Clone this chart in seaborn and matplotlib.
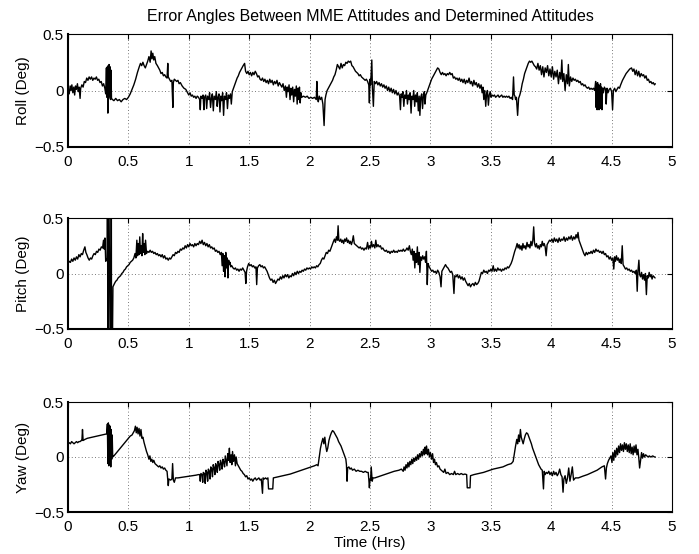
import matplotlib
matplotlib.use("Agg")
import matplotlib.pyplot as plt
import seaborn as sns
import pandas as pd
from matplotlib.ticker import FuncFormatter

# ---------------- data ----------------
title = "Error Angles Between MME Attitudes and Determined Attitudes"
panel_labels = ["Roll (Deg)", "Pitch (Deg)", "Yaw (Deg)"]
x_label = "Time (Hrs)"
x_ticks = [0, 0.5, 1, 1.5, 2, 2.5, 3, 3.5, 4, 4.5, 5]
y_ticks = [-0.5, 0, 0.5]

roll_points = [
(0.000,0.02),(0.010,-0.03),(0.018,0.04),(0.025,0.00),(0.032,0.05),(0.040,-0.02),(0.048,0.03),(0.055,-0.04),
(0.062,0.04),(0.070,0.01),(0.078,0.06),(0.085,-0.01),(0.092,0.03),(0.100,-0.07),(0.105,0.02),(0.115,0.05),
(0.125,0.03),(0.135,0.08),(0.145,0.07),(0.155,0.11),(0.165,0.09),(0.175,0.12),(0.185,0.10),(0.195,0.12),
(0.205,0.09),(0.215,0.11),(0.225,0.10),(0.235,0.12),(0.245,0.09),(0.255,0.10),(0.265,0.07),(0.275,0.08),
(0.285,0.04),(0.295,0.06),(0.305,0.02),(0.312,-0.03),(0.318,0.20),(0.322,-0.06),(0.326,0.21),(0.330,-0.20),
(0.333,0.22),(0.336,-0.07),(0.340,0.23),(0.344,-0.05),(0.348,0.21),(0.352,-0.08),(0.356,0.18),(0.360,-0.07),
(0.368,-0.08),(0.380,-0.09),(0.395,-0.07),(0.410,-0.09),(0.425,-0.08),(0.440,-0.10),(0.455,-0.08),(0.470,-0.07),
(0.485,-0.08),(0.500,-0.06),(0.515,-0.03),(0.530,0.01),(0.545,0.05),(0.560,0.10),(0.575,0.16),(0.590,0.21),
(0.600,0.24),(0.610,0.22),(0.620,0.25),(0.630,0.22),(0.640,0.20),(0.650,0.23),(0.660,0.26),(0.670,0.30),
(0.680,0.25),(0.688,0.35),(0.695,0.28),(0.702,0.33),(0.710,0.27),(0.718,0.30),(0.728,0.24),(0.740,0.22),
(0.750,0.20),(0.760,0.18),(0.770,0.15),(0.780,0.16),(0.790,0.13),(0.800,0.14),(0.810,0.12),(0.820,0.11),
(0.826,0.24),(0.830,0.12),(0.840,0.10),(0.850,0.08),(0.860,0.09),(0.868,-0.15),(0.872,0.07),(0.880,0.10),
(0.890,0.09),(0.900,0.08),(0.910,0.09),(0.920,0.06),(0.930,0.07),(0.945,0.04),(0.960,0.02),(0.975,0.01),
(0.990,-0.02),(1.000,-0.04),(1.010,-0.02),(1.020,-0.05),(1.030,-0.04),(1.040,-0.06),(1.050,-0.05),(1.060,-0.07),
(1.070,-0.05),(1.080,-0.06),(1.090,-0.08),(1.095,-0.17),(1.100,-0.05),(1.110,-0.07),(1.118,-0.04),(1.125,-0.17),
(1.130,-0.06),(1.140,-0.04),(1.148,-0.16),(1.155,-0.05),(1.165,-0.08),(1.172,-0.02),(1.180,-0.15),(1.188,-0.06),
(1.195,-0.03),(1.203,-0.18),(1.210,-0.05),(1.220,-0.08),(1.228,-0.01),(1.235,-0.14),(1.242,-0.06),(1.250,-0.03),
(1.258,-0.19),(1.265,-0.05),(1.272,-0.09),(1.280,-0.02),(1.288,-0.22),(1.295,-0.05),(1.305,-0.08),(1.312,-0.02),
(1.320,-0.16),(1.328,-0.04),(1.336,-0.07),(1.345,-0.03),(1.352,-0.12),(1.360,-0.01),(1.370,0.02),(1.380,0.05),
(1.390,0.08),(1.400,0.11),(1.410,0.13),(1.420,0.16),(1.430,0.18),(1.440,0.20),(1.450,0.22),(1.462,0.24),
(1.470,0.17),(1.480,0.15),(1.490,0.17),(1.500,0.14),(1.510,0.16),(1.520,0.13),(1.530,0.16),(1.540,0.14),
(1.550,0.17),(1.560,0.15),(1.570,0.12),(1.580,0.13),(1.590,0.10),(1.600,0.09),(1.610,0.11),(1.620,0.08),
(1.630,0.10),(1.640,0.07),(1.650,0.09),(1.660,0.06),(1.670,0.10),(1.680,0.07),(1.690,0.09),(1.700,0.05),
(1.710,0.08),(1.720,0.06),(1.730,0.09),(1.740,0.04),(1.750,0.07),(1.760,0.05),(1.770,0.03),(1.780,0.06),
(1.790,0.00),(1.800,0.04),(1.808,-0.06),(1.815,0.03),(1.822,-0.01),(1.830,0.05),(1.838,-0.08),(1.845,0.02),
(1.852,-0.04),(1.860,0.03),(1.868,-0.10),(1.875,0.01),(1.882,-0.05),(1.890,0.04),(1.897,-0.12),(1.903,0.02),
(1.910,-0.08),(1.916,0.03),(1.922,-0.11),(1.928,-0.02),(1.935,-0.06),(1.950,-0.05),(1.965,-0.06),(1.980,-0.05),
(1.995,-0.07),(2.010,-0.06),(2.025,-0.07),(2.040,-0.06),(2.055,-0.08),(2.060,0.08),(2.066,-0.07),(2.072,-0.10),
(2.080,-0.05),(2.090,-0.08),(2.100,-0.06),(2.110,-0.12),(2.120,-0.31),(2.128,-0.08),(2.135,-0.04),(2.145,0.00),
(2.160,0.03),(2.175,0.06),(2.190,0.09),(2.200,0.12),(2.210,0.14),(2.220,0.18),(2.230,0.23),(2.240,0.21),
(2.250,0.19),(2.260,0.24),(2.270,0.20),(2.280,0.23),(2.290,0.22),(2.300,0.25),(2.310,0.24),(2.320,0.26),
(2.330,0.25),(2.340,0.26),(2.350,0.22),(2.360,0.21),(2.370,0.19),(2.380,0.17),(2.390,0.16),(2.400,0.15),
(2.410,0.13),(2.420,0.14),(2.430,0.12),(2.440,0.11),(2.450,0.10),(2.460,0.09),(2.470,0.10),(2.480,0.08),
(2.490,0.05),(2.495,-0.11),(2.500,0.10),(2.505,0.05),(2.515,0.27),(2.520,0.02),(2.528,-0.14),(2.535,0.08),
(2.545,0.06),(2.555,0.08),(2.565,0.05),(2.575,0.07),(2.585,0.04),(2.595,0.06),(2.605,0.03),(2.615,0.05),
(2.625,0.02),(2.635,0.04),(2.645,0.00),(2.655,0.03),(2.665,-0.01),(2.675,0.02),(2.685,-0.02),(2.695,0.01),
(2.705,-0.03),(2.715,0.00),(2.725,-0.04),(2.735,-0.02),(2.745,-0.05),(2.752,-0.17),(2.758,-0.03),(2.765,-0.06),
(2.772,-0.01),(2.780,-0.14),(2.787,-0.04),(2.795,-0.07),(2.802,0.00),(2.810,-0.12),(2.818,-0.04),(2.825,-0.08),
(2.832,-0.02),(2.840,-0.20),(2.847,-0.05),(2.855,-0.08),(2.862,0.00),(2.870,-0.14),(2.877,-0.04),(2.885,-0.10),
(2.892,-0.02),(2.900,-0.18),(2.907,-0.05),(2.913,-0.22),(2.920,-0.06),(2.928,-0.03),(2.935,-0.16),(2.942,-0.05),
(2.950,-0.01),(2.955,-0.12),(2.962,-0.04),(2.970,-0.02),(2.980,0.01),(2.990,0.04),(3.000,0.07),(3.010,0.10),
(3.020,0.12),(3.030,0.14),(3.040,0.16),(3.050,0.18),(3.060,0.20),(3.070,0.19),(3.080,0.16),(3.090,0.14),
(3.100,0.16),(3.110,0.14),(3.120,0.15),(3.130,0.13),(3.140,0.15),(3.150,0.14),(3.160,0.16),(3.170,0.14),
(3.180,0.15),(3.190,0.11),(3.200,0.12),(3.210,0.10),(3.220,0.11),(3.230,0.09),(3.240,0.11),(3.250,0.08),
(3.260,0.10),(3.270,0.07),(3.280,0.10),(3.290,0.06),(3.300,0.09),(3.310,0.07),(3.320,0.11),(3.330,0.06),
(3.340,0.08),(3.350,0.04),(3.360,0.09),(3.370,0.05),(3.380,0.07),(3.390,0.03),(3.400,0.06),(3.410,0.02),
(3.420,0.05),(3.428,-0.02),(3.435,0.03),(3.442,-0.08),(3.450,0.00),(3.458,-0.14),(3.465,-0.03),(3.472,0.00),
(3.480,-0.13),(3.487,-0.04),(3.495,-0.01),(3.502,-0.06),(3.510,-0.04),(3.520,-0.05),(3.530,-0.04),(3.540,-0.06),
(3.550,-0.05),(3.560,-0.04),(3.570,-0.06),(3.580,-0.05),(3.590,-0.04),(3.600,-0.06),(3.610,-0.05),(3.620,-0.06),
(3.630,-0.05),(3.640,-0.06),(3.650,-0.05),(3.660,-0.07),(3.670,-0.06),(3.680,-0.08),(3.688,0.12),(3.694,-0.04),
(3.700,-0.05),(3.705,-0.08),(3.712,-0.06),(3.722,-0.22),(3.730,-0.07),(3.740,-0.04),(3.750,0.00),(3.760,0.06),
(3.770,0.10),(3.780,0.15),(3.790,0.18),(3.800,0.21),(3.810,0.24),(3.820,0.26),(3.830,0.25),(3.840,0.26),
(3.850,0.24),(3.860,0.22),(3.870,0.21),(3.880,0.19),(3.890,0.24),(3.900,0.18),(3.910,0.22),(3.920,0.14),
(3.930,0.21),(3.940,0.12),(3.950,0.20),(3.960,0.16),(3.970,0.22),(3.980,0.13),(3.990,0.19),(4.000,0.12),
(4.010,0.21),(4.020,0.10),(4.030,0.17),(4.040,0.12),(4.050,0.18),(4.060,0.06),(4.070,0.16),(4.080,0.10),
(4.088,0.27),(4.095,0.08),(4.105,0.15),(4.115,0.00),(4.125,0.14),(4.135,0.06),(4.142,0.23),(4.150,0.04),
(4.160,0.12),(4.170,0.08),(4.180,0.11),(4.190,0.09),(4.200,0.10),(4.210,0.08),(4.220,0.09),(4.230,0.07),
(4.240,0.08),(4.250,0.05),(4.260,0.06),(4.270,0.04),(4.280,0.05),(4.290,0.03),(4.300,0.02),(4.310,0.03),
(4.320,0.01),(4.330,0.02),(4.340,0.01),(4.350,0.02),(4.360,0.00),(4.368,0.08),(4.372,-0.15),(4.376,0.06),
(4.380,-0.17),(4.384,0.07),(4.388,-0.16),(4.392,0.05),(4.396,-0.17),(4.400,0.04),(4.404,-0.15),(4.408,0.06),
(4.412,-0.16),(4.416,0.03),(4.420,-0.17),(4.425,0.02),(4.432,-0.02),(4.440,0.03),(4.450,0.01),(4.455,-0.12),
(4.462,0.02),(4.470,-0.02),(4.480,0.01),(4.490,0.02),(4.500,-0.01),(4.508,-0.17),(4.515,0.00),(4.525,0.02),
(4.535,-0.01),(4.545,0.01),(4.555,0.03),(4.565,0.02),(4.575,0.05),(4.590,0.09),(4.605,0.12),(4.620,0.15),
(4.635,0.17),(4.650,0.19),(4.665,0.20),(4.675,0.17),(4.685,0.19),(4.695,0.14),(4.705,0.18),(4.715,0.13),
(4.725,0.17),(4.735,0.12),(4.745,0.15),(4.755,0.13),(4.765,0.14),(4.775,0.11),(4.785,0.13),(4.795,0.09),
(4.805,0.10),(4.815,0.07),(4.825,0.08),(4.835,0.06),(4.845,0.07),(4.855,0.05),(4.862,0.06),
]

pitch_points = [
(0.000,0.09),(0.010,0.11),(0.020,0.10),(0.030,0.13),(0.040,0.11),(0.050,0.14),(0.060,0.12),(0.070,0.15),
(0.080,0.13),(0.090,0.17),(0.100,0.15),(0.110,0.18),(0.120,0.17),(0.130,0.21),(0.140,0.24),(0.148,0.19),
(0.156,0.17),(0.166,0.14),(0.176,0.12),(0.186,0.14),(0.196,0.13),(0.206,0.16),(0.216,0.18),(0.226,0.17),
(0.236,0.20),(0.246,0.19),(0.256,0.22),(0.266,0.21),(0.276,0.24),(0.286,0.23),(0.294,0.30),(0.300,0.22),
(0.306,0.32),(0.312,0.11),(0.318,0.12),(0.324,0.14),(0.327,1.5),(0.330,-1.5),(0.333,1.5),(0.355,-1.5),
(0.358,1.5),(0.361,-1.5),(0.372,-0.12),(0.385,-0.09),(0.395,-0.07),(0.405,-0.06),(0.415,-0.04),(0.425,-0.03),
(0.435,-0.02),(0.445,0.00),(0.455,0.01),(0.465,0.03),(0.475,0.04),(0.485,0.06),(0.495,0.07),(0.505,0.08),
(0.515,0.10),(0.525,0.11),(0.535,0.12),(0.545,0.14),(0.555,0.18),(0.562,0.14),(0.570,0.30),(0.576,0.16),
(0.582,0.27),(0.588,0.17),(0.594,0.33),(0.600,0.18),(0.606,0.25),(0.612,0.16),(0.618,0.36),(0.624,0.19),
(0.630,0.27),(0.636,0.17),(0.642,0.30),(0.650,0.18),(0.660,0.20),(0.670,0.19),(0.680,0.21),(0.690,0.19),
(0.700,0.20),(0.710,0.18),(0.720,0.19),(0.730,0.17),(0.740,0.18),(0.750,0.16),(0.760,0.17),(0.770,0.15),
(0.780,0.17),(0.790,0.14),(0.800,0.16),(0.810,0.13),(0.820,0.14),(0.830,0.12),(0.840,0.14),(0.850,0.13),
(0.860,0.15),(0.870,0.17),(0.880,0.16),(0.890,0.19),(0.900,0.18),(0.910,0.20),(0.920,0.19),(0.930,0.22),
(0.940,0.21),(0.950,0.23),(0.960,0.22),(0.970,0.25),(0.980,0.23),(0.990,0.26),(1.000,0.24),(1.010,0.27),
(1.020,0.25),(1.030,0.26),(1.040,0.24),(1.050,0.27),(1.060,0.25),(1.070,0.27),(1.080,0.26),(1.090,0.29),
(1.100,0.27),(1.110,0.30),(1.120,0.26),(1.130,0.28),(1.140,0.25),(1.150,0.27),(1.160,0.24),(1.170,0.26),
(1.180,0.23),(1.190,0.24),(1.200,0.22),(1.210,0.23),(1.220,0.20),(1.230,0.21),(1.240,0.19),(1.250,0.20),
(1.260,0.17),(1.270,0.19),(1.276,0.07),(1.282,0.18),(1.288,0.02),(1.294,0.16),(1.300,-0.03),(1.306,0.19),
(1.312,0.05),(1.318,0.14),(1.324,-0.04),(1.330,0.12),(1.336,0.08),(1.342,0.10),(1.348,0.06),(1.356,0.07),
(1.366,0.05),(1.376,0.04),(1.386,0.05),(1.396,0.03),(1.406,0.04),(1.416,0.02),(1.426,0.04),(1.436,0.03),
(1.446,0.05),(1.456,0.03),(1.466,0.01),(1.472,-0.09),(1.478,0.02),(1.486,0.06),(1.496,0.09),(1.506,0.07),
(1.516,0.08),(1.526,0.06),(1.536,0.07),(1.546,0.05),(1.556,0.06),(1.562,-0.10),(1.568,0.05),(1.578,0.07),
(1.588,0.08),(1.598,0.06),(1.608,0.07),(1.618,0.05),(1.628,0.06),(1.638,0.04),(1.648,0.02),(1.658,-0.01),
(1.668,-0.04),(1.678,-0.06),(1.688,-0.05),(1.698,-0.08),(1.708,-0.06),(1.718,-0.09),(1.728,-0.07),(1.738,-0.05),
(1.748,-0.06),(1.758,-0.03),(1.768,-0.05),(1.778,-0.02),(1.788,-0.04),(1.798,-0.01),(1.808,-0.03),(1.818,-0.01),
(1.828,-0.04),(1.838,-0.02),(1.848,-0.03),(1.858,0.00),(1.868,-0.02),(1.878,0.01),(1.888,-0.01),(1.898,0.02),
(1.908,0.00),(1.918,0.02),(1.928,0.01),(1.938,0.03),(1.948,0.02),(1.958,0.04),(1.968,0.03),(1.978,0.05),
(1.988,0.04),(1.998,0.05),(2.008,0.04),(2.018,0.06),(2.028,0.05),(2.038,0.06),(2.048,0.05),(2.058,0.07),
(2.068,0.06),(2.078,0.08),(2.088,0.09),(2.098,0.12),(2.108,0.14),(2.118,0.13),(2.128,0.16),(2.138,0.19),
(2.148,0.18),(2.158,0.21),(2.168,0.20),(2.178,0.23),(2.188,0.26),(2.198,0.29),(2.206,0.31),(2.214,0.28),
(2.222,0.33),(2.230,0.30),(2.236,0.43),(2.242,0.30),(2.250,0.29),(2.258,0.31),(2.266,0.28),(2.274,0.30),
(2.282,0.27),(2.290,0.31),(2.298,0.29),(2.306,0.32),(2.314,0.28),(2.322,0.30),(2.330,0.27),(2.338,0.29),
(2.346,0.26),(2.354,0.29),(2.362,0.34),(2.370,0.27),(2.380,0.26),(2.390,0.25),(2.400,0.24),(2.410,0.23),
(2.420,0.24),(2.430,0.22),(2.440,0.23),(2.450,0.21),(2.460,0.23),(2.470,0.22),(2.480,0.28),(2.488,0.22),
(2.496,0.25),(2.504,0.23),(2.512,0.29),(2.520,0.24),(2.530,0.26),(2.540,0.23),(2.548,0.30),(2.556,0.24),
(2.566,0.26),(2.576,0.24),(2.586,0.25),(2.596,0.22),(2.606,0.23),(2.616,0.21),(2.626,0.20),(2.636,0.21),
(2.646,0.19),(2.656,0.20),(2.666,0.18),(2.676,0.20),(2.686,0.19),(2.696,0.21),(2.706,0.19),(2.716,0.20),
(2.726,0.19),(2.736,0.21),(2.746,0.20),(2.756,0.21),(2.766,0.20),(2.776,0.22),(2.786,0.20),(2.796,0.21),
(2.806,0.23),(2.816,0.21),(2.826,0.25),(2.834,0.20),(2.842,0.17),(2.850,0.22),(2.857,0.12),(2.864,0.20),
(2.871,0.05),(2.878,0.18),(2.885,0.10),(2.892,0.24),(2.899,0.08),(2.906,0.19),(2.913,0.01),(2.920,0.15),
(2.928,0.12),(2.936,0.16),(2.944,0.13),(2.952,0.15),(2.960,0.10),(2.967,0.20),(2.974,-0.10),(2.980,0.09),
(2.990,0.06),(3.000,0.04),(3.010,0.02),(3.020,0.03),(3.030,0.01),(3.040,0.02),(3.050,0.00),(3.060,0.03),
(3.070,0.01),(3.080,-0.03),(3.088,-0.12),(3.095,0.02),(3.105,0.04),(3.115,0.06),(3.125,0.08),(3.135,0.06),
(3.145,0.05),(3.155,0.03),(3.165,0.01),(3.175,0.02),(3.185,-0.01),(3.195,-0.18),(3.202,-0.02),(3.212,-0.03),
(3.222,-0.01),(3.232,-0.04),(3.242,-0.02),(3.252,-0.05),(3.262,-0.03),(3.272,-0.06),(3.282,-0.04),(3.292,-0.07),
(3.302,-0.09),(3.312,-0.11),(3.322,-0.09),(3.332,-0.12),(3.342,-0.10),(3.352,-0.09),(3.362,-0.11),(3.372,-0.08),
(3.382,-0.10),(3.392,-0.09),(3.402,-0.07),(3.412,-0.03),(3.422,0.01),(3.432,0.00),(3.442,0.03),(3.452,0.01),
(3.462,0.02),(3.472,0.00),(3.482,0.03),(3.492,0.02),(3.500,0.04),(3.510,0.02),(3.520,0.07),(3.528,0.02),
(3.538,0.04),(3.548,0.02),(3.558,0.05),(3.568,0.03),(3.578,0.04),(3.588,0.02),(3.598,0.04),(3.608,0.03),
(3.618,0.05),(3.628,0.04),(3.638,0.06),(3.648,0.05),(3.658,0.07),(3.668,0.09),(3.678,0.12),(3.688,0.16),
(3.698,0.20),(3.708,0.23),(3.718,0.27),(3.726,0.23),(3.734,0.26),(3.742,0.22),(3.750,0.25),(3.758,0.21),
(3.766,0.27),(3.774,0.23),(3.782,0.25),(3.790,0.22),(3.800,0.28),(3.808,0.24),(3.816,0.26),(3.824,0.23),
(3.832,0.29),(3.840,0.25),(3.848,0.30),(3.855,0.42),(3.862,0.27),(3.870,0.24),(3.878,0.27),(3.886,0.23),
(3.894,0.25),(3.902,0.22),(3.910,0.26),(3.918,0.24),(3.926,0.29),(3.934,0.25),(3.942,0.27),(3.950,0.24),
(3.958,0.16),(3.966,0.26),(3.976,0.28),(3.986,0.30),(3.996,0.29),(4.006,0.31),(4.016,0.28),(4.026,0.32),
(4.036,0.29),(4.046,0.31),(4.056,0.28),(4.066,0.32),(4.076,0.29),(4.086,0.31),(4.096,0.30),(4.106,0.33),
(4.116,0.29),(4.126,0.32),(4.136,0.30),(4.146,0.33),(4.156,0.31),(4.166,0.34),(4.176,0.30),(4.186,0.33),
(4.196,0.31),(4.206,0.35),(4.214,0.32),(4.222,0.37),(4.230,0.30),(4.240,0.27),(4.250,0.24),(4.260,0.21),
(4.270,0.18),(4.280,0.16),(4.290,0.19),(4.300,0.17),(4.310,0.19),(4.320,0.18),(4.330,0.20),(4.340,0.18),
(4.350,0.21),(4.360,0.19),(4.370,0.22),(4.380,0.20),(4.390,0.21),(4.400,0.19),(4.410,0.20),(4.420,0.18),
(4.430,0.20),(4.440,0.17),(4.450,0.18),(4.460,0.15),(4.470,0.16),(4.480,0.13),(4.490,0.15),(4.500,0.12),
(4.510,0.14),(4.518,0.04),(4.525,0.15),(4.532,0.11),(4.540,0.16),(4.548,0.12),(4.556,0.14),(4.564,0.10),
(4.572,0.13),(4.580,0.09),(4.588,0.25),(4.595,0.08),(4.605,0.06),(4.615,0.04),(4.625,0.05),(4.635,0.03),
(4.645,0.04),(4.655,0.02),(4.665,0.03),(4.675,0.01),(4.685,0.02),(4.695,0.00),(4.705,0.03),(4.712,-0.16),
(4.718,0.02),(4.726,0.12),(4.732,-0.01),(4.740,-0.03),(4.748,0.01),(4.756,-0.05),(4.764,-0.01),(4.772,-0.06),
(4.780,0.00),(4.788,-0.19),(4.795,-0.02),(4.803,-0.04),(4.811,0.01),(4.819,-0.03),(4.827,-0.01),(4.835,-0.05),
(4.843,-0.02),(4.851,-0.03),(4.860,-0.04),
]

yaw_points = [
(0.000,0.12),(0.010,0.13),(0.020,0.12),(0.030,0.14),(0.040,0.13),(0.050,0.12),(0.060,0.13),(0.070,0.14),
(0.080,0.13),(0.090,0.14),(0.100,0.14),(0.110,0.15),(0.115,0.15),(0.120,0.25),(0.125,0.15),(0.140,0.16),
(0.160,0.17),(0.180,0.175),(0.200,0.18),(0.220,0.185),(0.240,0.19),(0.260,0.195),(0.280,0.20),(0.300,0.205),
(0.320,0.21),(0.326,0.30),(0.330,-0.06),(0.334,0.31),(0.338,-0.08),(0.342,0.29),(0.346,0.02),(0.350,0.28),
(0.354,-0.09),(0.358,0.25),(0.362,-0.02),(0.366,0.20),(0.370,0.00),(0.380,0.01),(0.395,0.03),(0.410,0.05),
(0.425,0.07),(0.440,0.09),(0.455,0.11),(0.470,0.13),(0.485,0.15),(0.500,0.17),(0.515,0.19),(0.530,0.20),
(0.540,0.22),(0.550,0.24),(0.558,0.28),(0.565,0.22),(0.572,0.27),(0.580,0.21),(0.588,0.26),(0.596,0.19),
(0.604,0.25),(0.612,0.17),(0.620,0.18),(0.630,0.13),(0.640,0.09),(0.650,0.05),(0.660,0.02),(0.670,-0.02),
(0.678,0.01),(0.686,-0.04),(0.694,-0.02),(0.702,-0.05),(0.710,-0.03),(0.720,-0.06),(0.730,-0.07),(0.740,-0.08),
(0.750,-0.09),(0.760,-0.08),(0.770,-0.10),(0.780,-0.09),(0.790,-0.11),(0.800,-0.10),(0.810,-0.12),(0.820,-0.13),
(0.825,-0.20),(0.830,-0.26),(0.835,-0.20),(0.850,-0.21),(0.860,-0.20),(0.866,-0.06),(0.872,-0.21),(0.880,-0.23),
(0.890,-0.19),(0.910,-0.19),(0.940,-0.185),(0.970,-0.18),(1.000,-0.175),(1.030,-0.17),(1.060,-0.165),(1.080,-0.16),
(1.090,-0.16),(1.095,-0.22),(1.100,-0.15),(1.110,-0.16),(1.115,-0.23),(1.120,-0.14),(1.130,-0.15),(1.136,-0.24),
(1.142,-0.12),(1.150,-0.14),(1.156,-0.22),(1.162,-0.11),(1.170,-0.13),(1.176,-0.20),(1.182,-0.09),(1.190,-0.11),
(1.196,-0.18),(1.202,-0.07),(1.210,-0.10),(1.216,-0.16),(1.222,-0.06),(1.230,-0.09),(1.236,-0.14),(1.242,-0.04),
(1.250,-0.07),(1.256,-0.12),(1.262,-0.03),(1.270,-0.06),(1.276,-0.11),(1.282,-0.02),(1.290,-0.05),(1.296,-0.09),
(1.302,0.01),(1.310,-0.04),(1.316,-0.08),(1.322,0.03),(1.330,-0.03),(1.336,0.08),(1.342,-0.05),(1.350,0.02),
(1.356,-0.07),(1.362,0.05),(1.370,-0.04),(1.378,0.02),(1.386,-0.08),(1.392,0.00),(1.400,-0.06),(1.410,-0.08),
(1.420,-0.10),(1.430,-0.12),(1.440,-0.13),(1.450,-0.15),(1.460,-0.16),(1.470,-0.18),(1.480,-0.17),(1.490,-0.20),
(1.500,-0.19),(1.510,-0.21),(1.520,-0.20),(1.530,-0.22),(1.540,-0.20),(1.550,-0.19),(1.560,-0.21),(1.570,-0.20),
(1.580,-0.19),(1.590,-0.21),(1.600,-0.20),(1.610,-0.33),(1.615,-0.19),(1.625,-0.20),(1.635,-0.19),(1.645,-0.20),
(1.655,-0.19),(1.660,-0.29),(1.680,-0.29),(1.695,-0.29),(1.700,-0.19),(1.720,-0.185),(1.760,-0.175),(1.800,-0.165),
(1.840,-0.155),(1.880,-0.14),(1.920,-0.125),(1.960,-0.11),(2.000,-0.095),(2.040,-0.08),(2.060,-0.07),(2.070,-0.08),
(2.080,0.00),(2.090,0.08),(2.100,0.13),(2.110,0.17),(2.118,0.12),(2.126,0.18),(2.134,0.10),(2.142,0.05),
(2.150,0.08),(2.160,0.15),(2.170,0.19),(2.180,0.22),(2.190,0.24),(2.200,0.23),(2.210,0.21),(2.220,0.19),
(2.230,0.17),(2.240,0.14),(2.250,0.12),(2.260,0.10),(2.270,0.07),(2.280,0.04),(2.290,0.01),(2.300,-0.02),
(2.305,-0.07),(2.310,-0.22),(2.315,-0.10),(2.325,-0.09),(2.335,-0.11),(2.345,-0.10),(2.355,-0.12),(2.370,-0.11),
(2.385,-0.13),(2.400,-0.12),(2.415,-0.13),(2.430,-0.13),(2.445,-0.14),(2.460,-0.13),(2.475,-0.14),(2.485,-0.14),
(2.490,-0.20),(2.495,-0.28),(2.500,-0.20),(2.505,-0.21),(2.510,-0.09),(2.518,-0.22),(2.525,-0.19),(2.540,-0.19),
(2.580,-0.175),(2.620,-0.16),(2.660,-0.145),(2.700,-0.13),(2.740,-0.12),(2.760,-0.11),(2.775,-0.13),(2.782,-0.09),
(2.790,-0.12),(2.798,-0.07),(2.806,-0.10),(2.814,-0.05),(2.822,-0.09),(2.830,-0.04),(2.838,-0.07),(2.846,-0.02),
(2.854,-0.06),(2.862,-0.01),(2.870,-0.04),(2.878,0.00),(2.886,-0.03),(2.894,0.02),(2.902,-0.02),(2.910,0.03),
(2.918,0.00),(2.926,0.05),(2.934,0.01),(2.942,0.07),(2.950,0.02),(2.956,0.09),(2.962,0.03),(2.968,0.10),
(2.976,0.02),(2.984,0.07),(2.992,0.00),(3.000,0.04),(3.010,-0.02),(3.018,0.03),(3.026,-0.05),(3.034,-0.02),
(3.042,-0.07),(3.050,-0.05),(3.060,-0.09),(3.070,-0.08),(3.080,-0.11),(3.090,-0.12),(3.100,-0.13),(3.110,-0.14),
(3.120,-0.11),(3.130,-0.15),(3.145,-0.14),(3.160,-0.16),(3.175,-0.15),(3.190,-0.16),(3.200,-0.13),(3.210,-0.16),
(3.225,-0.15),(3.240,-0.16),(3.255,-0.15),(3.270,-0.16),(3.285,-0.155),(3.300,-0.16),(3.305,-0.28),(3.320,-0.28),
(3.328,-0.28),(3.332,-0.17),(3.360,-0.16),(3.400,-0.15),(3.440,-0.14),(3.480,-0.125),(3.520,-0.11),(3.560,-0.10),
(3.600,-0.09),(3.640,-0.07),(3.670,-0.06),(3.685,-0.04),(3.695,0.03),(3.705,0.10),(3.715,0.16),(3.722,0.12),
(3.730,0.20),(3.737,0.14),(3.745,0.25),(3.752,0.18),(3.760,0.15),(3.768,0.12),(3.776,0.16),(3.786,0.20),
(3.796,0.22),(3.806,0.21),(3.816,0.18),(3.826,0.15),(3.836,0.12),(3.846,0.08),(3.856,0.05),(3.866,0.02),
(3.876,-0.01),(3.886,-0.04),(3.896,-0.07),(3.906,-0.09),(3.916,-0.11),(3.926,-0.12),(3.936,-0.29),(3.942,-0.13),
(3.950,-0.16),(3.960,-0.14),(3.970,-0.15),(3.980,-0.13),(3.990,-0.16),(4.000,-0.14),(4.010,-0.17),(4.020,-0.13),
(4.030,-0.16),(4.040,-0.14),(4.050,-0.17),(4.060,-0.15),(4.070,-0.11),(4.080,-0.16),(4.090,-0.18),(4.098,-0.32),
(4.105,-0.20),(4.115,-0.17),(4.125,-0.24),(4.135,-0.19),(4.145,-0.10),(4.155,-0.22),(4.165,-0.16),(4.175,-0.09),
(4.185,-0.21),(4.200,-0.19),(4.225,-0.19),(4.260,-0.175),(4.300,-0.16),(4.340,-0.14),(4.380,-0.12),(4.420,-0.09),
(4.440,-0.08),(4.445,-0.14),(4.450,-0.20),(4.457,-0.10),(4.465,-0.06),(4.475,-0.03),(4.485,-0.01),(4.495,0.01),
(4.503,-0.05),(4.510,0.04),(4.518,-0.03),(4.526,0.06),(4.534,0.00),(4.542,0.08),(4.550,0.02),(4.558,0.10),
(4.566,0.04),(4.574,0.12),(4.582,0.06),(4.590,0.11),(4.598,0.05),(4.606,0.13),(4.614,0.07),(4.622,0.12),
(4.630,0.05),(4.638,0.11),(4.646,0.04),(4.654,0.12),(4.662,0.03),(4.670,0.09),(4.678,0.02),(4.686,0.10),
(4.694,0.04),(4.702,0.11),(4.710,0.02),(4.718,0.07),(4.726,-0.02),(4.732,-0.10),(4.740,-0.03),(4.748,0.04),
(4.756,-0.01),(4.764,0.03),(4.772,0.00),(4.782,0.02),(4.792,0.01),(4.802,0.00),(4.812,0.01),(4.825,0.00),
(4.840,0.01),(4.855,0.00),(4.862,0.00),
]

series = [roll_points, pitch_points, yaw_points]

# ---------------- styling ----------------
sns.set_theme(style="white")
plt.rcParams["font.family"] = ["Liberation Sans", "DejaVu Sans"]
plt.rcParams["axes.unicode_minus"] = True

fig = plt.figure(figsize=(6.99, 5.54), dpi=100)
W, H = 699, 554
boxes = [(68, 34, 604, 113), (68, 218, 604, 111), (68, 402, 604, 110)]

for i, (pts, lab, (x0, y0, w, h)) in enumerate(zip(series, panel_labels, boxes)):
    ax = fig.add_axes([x0 / W, 1 - (y0 + h) / H, w / W, h / H])
    df = pd.DataFrame(pts, columns=["t", "v"])
    sns.lineplot(data=df, x="t", y="v", ax=ax, color="black", linewidth=1.0,
                 estimator=None, sort=False)
    ax.set_xlim(0, 5)
    ax.set_ylim(-0.5, 0.5)
    ax.set_xticks(x_ticks)
    ax.set_yticks(y_ticks)
    ax.xaxis.set_major_formatter(FuncFormatter(lambda v, p: f"{v:g}"))
    ax.yaxis.set_major_formatter(FuncFormatter(lambda v, p: f"{v:g}".replace("-", "\u2212")))
    ax.grid(True, color="0.3", linestyle=(0, (1, 3)), linewidth=0.6)
    for name, s in ax.spines.items():
        s.set_visible(True)
        s.set_color("black")
        s.set_linewidth(1.5 if name in ("left", "bottom") else 0.8)
    ax.tick_params(direction="in", top=True, right=True, length=3.5, width=0.8,
                   labelsize=11, colors="black")
    ax.tick_params(axis="x", pad=5.5)
    ax.tick_params(axis="y", pad=3)
    ax.set_ylabel(lab, fontsize=11, color="black", labelpad=3)
    ax.set_xlabel(x_label if i == 2 else "", fontsize=11, color="black", labelpad=2)
    if i == 0:
        ax.set_title(title, fontsize=11.5, color="black", pad=9)

fig.savefig("out.png", dpi=100, facecolor="white")
